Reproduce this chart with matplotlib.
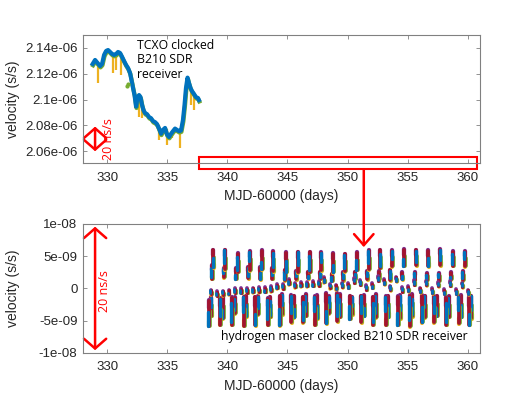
import numpy as np
import matplotlib
matplotlib.use('Agg')
import matplotlib.pyplot as plt
import matplotlib.patheffects as pe
from matplotlib.patches import Rectangle, FancyArrowPatch, ConnectionPatch

plt.rcParams['font.family'] = ['Liberation Sans', 'DejaVu Sans']

# octave default line colours
C_BLUE = '#0072BD'
C_ORANGE = '#D95319'
C_YELLOW = '#EDB120'
C_PURPLE = '#7E2F8E'
C_GREEN = '#77AC30'
C_RED = '#A2142F'
AX_COL = '#808080'
TXT_COL = '#262626'

# ---- TCXO clocked receiver (values in 1e-9 s/s)
tcxo_x = [328.80, 329.00, 329.21, 329.42, 329.58, 329.75, 329.92, 330.08, 330.25, 330.42,
          330.58, 330.75, 330.91, 331.08, 331.25, 331.41, 331.58, 331.74, 331.91, 332.03,
          332.16, 332.28, 332.41, 332.53, 332.66, 332.78, 332.91, 333.03, 333.16, 333.32,
          333.49, 333.65, 333.82, 333.99, 334.15, 334.32, 334.49, 334.65, 334.82, 334.98,
          335.15, 335.32, 335.48, 335.65, 335.81, 335.98, 336.15, 336.31, 336.44, 336.56,
          336.69, 336.81, 336.94, 337.06, 337.23, 337.39, 337.56, 337.64]
tcxo_v = [2127.6, 2130.7, 2128.3, 2126.0, 2127.6, 2134.6, 2137.7, 2138.4, 2136.9, 2135.3,
          2134.6, 2135.3, 2136.9, 2136.1, 2133.0, 2129.9, 2126.8, 2124.5, 2120.6, 2115.1,
          2108.9, 2103.5, 2094.5, 2101.9, 2103.5, 2101.9, 2095.7, 2091.8, 2089.5, 2088.7,
          2086.4, 2085.6, 2083.3, 2082.5, 2081.0, 2077.5, 2073.5, 2076.5, 2078.0, 2073.0,
          2071.0, 2073.5, 2075.5, 2077.5, 2076.5, 2075.5, 2076.0, 2084.1, 2095.7, 2108.9,
          2117.0, 2112.8, 2108.9, 2106.6, 2104.3, 2101.9, 2101.2, 2099.6]
spike_x = [329.25, 330.47, 330.75, 331.16, 332.66, 332.93, 334.34, 334.96, 335.40, 336.06, 336.95, 337.25]
spike_lo = [2112.5, 2120.3, 2122.9, 2119.0, 2086.6, 2085.4, 2068.5, 2064.7, 2070.0, 2062.1, 2095.7, 2091.8]
spike_hi = [2128.0, 2135.0, 2135.0, 2135.0, 2102.0, 2095.0, 2080.0, 2077.0, 2076.0, 2077.0, 2108.0, 2103.0]
green_x = [331.62, 331.70]
green_v = [2110.6, 2112.4]

# ---- hydrogen maser clocked receiver (values in 1e-9 s/s)
up_x = [338.83, 339.78, 340.88, 341.87, 342.86, 343.83, 344.90, 345.88, 346.86, 347.83, 348.80,
        349.77, 350.78, 351.75, 352.73, 353.70, 354.69, 355.71, 356.72, 357.71, 358.74, 359.74]
up_top = [5.9, 5.9, 5.4, 5.7, 5.8, 5.7, 5.5, 5.6, 5.6, 5.5, 5.4, 5.3, 5.5, 5.8, 5.9, 5.8, 6.0, 5.9, 5.8, 6.0, 5.7, 5.7]
up_bot = [3.3, 3.0, 2.6, 2.8, 3.0, 2.7, 2.6, 2.5, 2.6, 2.8, 2.5, 2.7, 2.9, 3.0, 3.2, 3.4, 3.5, 3.6, 3.4, 3.6, 3.5, 3.4]
lobe_x = [338.70, 339.70, 340.70, 341.75, 342.75, 343.75, 344.78, 345.75, 346.75, 347.72, 348.68,
          349.66, 350.66, 351.63, 352.60, 353.57, 354.57, 355.57, 356.58, 357.57, 358.60, 359.60]
lobe_top = [3.5, 3.0, 3.0, 3.2, 3.2, 3.0, 2.8, 2.6, 2.5, 2.5, 2.2, 2.4, 2.5, 2.6, 2.6, 2.8, 2.4, 2.4, 2.3, 2.3, 2.4, 2.6]
lobe_bot = [1.5, 1.7, 1.5, 1.6, 1.4, 1.5, 1.3, 1.4, 1.6, 1.5, 1.2, 1.3, 1.5, 1.4, 1.5, 1.3, 1.4, 1.3, 1.3, 1.2, 1.4, 1.3]
mid_x = [338.61, 339.11, 339.61, 340.10, 340.60, 341.10, 341.60, 342.10, 342.60, 343.10, 343.60,
         344.10, 344.60, 345.10, 345.60, 346.10, 346.60, 347.10, 347.60, 348.05, 348.55, 349.05,
         349.55, 350.05, 350.55, 351.05, 351.55, 352.05, 352.55, 353.05, 353.55, 354.05, 354.55,
         355.05, 355.55, 356.05, 356.55, 357.05, 357.55, 358.05, 358.55, 359.05, 359.55, 360.05]
mid_v = [-0.6, -0.85, -0.75, -0.6, -0.35, -0.35, -0.35, -0.3, -0.25, -0.2, -0.1,
         0.3, 0.25, 1.0, 0.45, 0.6, 0.6, 0.7, 0.75, 1.3, 0.3, 0.2,
         0.5, 0.4, 1.2, 0.9, 0.1, 0.4, 1.5, 1.0, 0.0, 1.4, -0.2,
         -0.1, 0.9, -0.3, 0.8, -0.4, 0.6, -0.5, 0.7, -0.5, 0.5, -0.6]
lo_x = [338.45, 339.40, 340.38, 341.35, 342.33, 343.35, 344.36, 345.33, 346.30, 347.27, 348.24, 349.15,
        350.18, 351.15, 352.12, 353.18, 354.17, 355.16, 356.20, 357.20, 358.20, 359.25, 360.14]
lo_top = [-1.9, -1.6, -1.5, -1.4, -1.4, -1.6, -1.2, -1.1, -1.4, -1.3, -0.8, -0.8,
          -1.2, -1.2, -1.4, -1.3, -1.3, -1.1, -1.1, -1.3, -1.5, -1.3, -1.5]
lo_bot = [-5.8, -5.6, -5.6, -5.8, -5.7, -5.6, -5.7, -5.2, -5.2, -5.6, -5.4, -5.1,
          -4.7, -5.2, -5.6, -5.6, -5.6, -5.9, -5.2, -5.2, -5.6, -5.4, -5.6]
lo2_x = [338.67, 339.62, 340.60, 341.57, 342.55, 343.57, 344.58, 345.55, 346.52, 347.49, 348.46, 349.37,
         350.40, 351.37, 352.34, 353.40, 354.39, 355.38, 356.42, 357.42, 358.42, 359.47, 360.30]
lo2_top = [-1.5, -1.4, -1.5, -1.2, -1.3, -1.4, -1.0, -1.2, -1.0, -1.1, -1.3, -1.0,
           -1.4, -1.1, -1.0, -1.2, -1.1, -1.0, -1.2, -1.2, -1.3, -1.1, -1.2]
lo2_bot = [-4.2, -4.6, -3.8, -4.3, -4.0, -4.4, -4.0, -4.5, -4.2, -4.6, -3.8, -4.4,
           -4.0, -4.2, -4.5, -4.4, -4.6, -4.3, -4.5, -4.2, -4.4, -4.4, -4.6]

xticks = [330, 335, 340, 345, 350, 355, 360]
top_yticks = [2.06e-6, 2.08e-6, 2.10e-6, 2.12e-6, 2.14e-6]
top_ylabels = ['2.06e-06', '2.08e-06', '2.1e-06', '2.12e-06', '2.14e-06']
bot_yticks = [-1e-8, -5e-9, 0, 5e-9, 1e-8]
bot_ylabels = ['-1e-08', '-5e-09', '0', '5e-09', '1e-08']

# blue coverage inside each streak, just for the mixed look
blue_span = [(0.0, 0.55), (0.35, 1.0), (0.1, 0.8), (0.5, 1.0), (0.0, 0.4), (0.2, 0.95)]


def streak(ax, x, top, bot, k, w=2.7):
    h = top - bot
    n = 1e-9
    kw = dict(solid_capstyle='round')
    ax.plot([x, x], [(top - 0.3 * h) * n, (top + 0.1) * n], color=C_PURPLE, lw=w + 0.4, **kw)
    ax.plot([x + 0.03, x + 0.03], [(bot - 0.1) * n, (bot + 0.2 * h) * n], color=C_YELLOW, lw=w + 0.3, **kw)
    ax.plot([x + 0.08, x + 0.08], [bot * n, (bot + 0.6 * h) * n], color=C_GREEN, lw=w, **kw)
    ax.plot([x, x], [bot * n, top * n], color=C_RED, lw=w, **kw)
    a, b = blue_span[k % len(blue_span)]
    ax.plot([x - 0.04, x - 0.04], [(bot + a * h) * n, (bot + b * h) * n], color=C_BLUE, lw=w - 0.3, **kw)


def style_axes(ax):
    for s in ax.spines.values():
        s.set_color(AX_COL)
        s.set_linewidth(0.8)
    ax.tick_params(direction='in', top=True, right=True, length=3, width=0.6, color=AX_COL,
                   labelsize=9.5, labelcolor=TXT_COL)
    ax.tick_params(axis='x', pad=6)
    ax.tick_params(axis='y', pad=4)
    ax.set_xlim(328.0, 361.0)
    ax.set_xticks(xticks)
    ax.set_xlabel('MJD-60000 (days)', fontsize=10, color=TXT_COL)
    ax.set_ylabel('velocity (s/s)', fontsize=10, color=TXT_COL)
    ax.yaxis.set_label_coords(-0.16, 0.5)
    ax.xaxis.set_label_coords(0.5, -0.205)


fig = plt.figure(figsize=(5.29, 3.97), dpi=100)
ax1 = fig.add_axes([0.157, 0.589, 0.750, 0.323])
ax2 = fig.add_axes([0.157, 0.111, 0.750, 0.325])

# top panel
ax1.vlines(spike_x, np.array(spike_lo) * 1e-9, np.array(spike_hi) * 1e-9, color=C_YELLOW, lw=1.6)
ax1.plot(tcxo_x, np.array(tcxo_v) * 1e-9, color=C_BLUE, lw=3.0, solid_joinstyle='round',
         path_effects=[pe.SimpleLineShadow(offset=(0.3, -1.0), shadow_color=C_GREEN, alpha=1.0),
                       pe.Normal()])
ax1.plot(green_x, np.array(green_v) * 1e-9, '.', color=C_GREEN, ms=4)
ax1.set_ylim(2.0507e-6, 2.1501e-6)
ax1.set_yticks(top_yticks)
ax1.set_yticklabels(top_ylabels)
style_axes(ax1)

ax1.text(332.45, 2.1472e-6, 'TCXO clocked\nB210 SDR\nreceiver', fontsize=8.8, va='top', ha='left',
         family=['Open Sans', 'DejaVu Sans'], linespacing=1.15)
ax1.add_patch(FancyArrowPatch((329.0, 2.0578e-6), (329.0, 2.0812e-6), arrowstyle='<->,head_length=0.35,head_width=0.4',
                              mutation_scale=20, color='red', lw=1.8, clip_on=False))
ax1.text(330.1, 2.0695e-6, '20 ns/s', rotation=90, color='red', fontsize=9, va='center', ha='center',
         family=['Open Sans', 'DejaVu Sans'])
ax1.add_patch(Rectangle((337.65, 2.046e-6), 23.1, 0.0093e-6, fill=False, edgecolor='red', lw=1.5, clip_on=False))

# bottom panel
for i in range(len(lo_x)):
    streak(ax2, lo2_x[i], lo2_top[i], lo2_bot[i], i + 3)
    streak(ax2, lo_x[i], lo_top[i], lo_bot[i], i)
for i in range(len(up_x)):
    streak(ax2, lobe_x[i], lobe_top[i], lobe_bot[i], i + 2)
    streak(ax2, up_x[i], up_top[i], up_bot[i], i)
for i in range(len(mid_x)):
    streak(ax2, mid_x[i], mid_v[i] + 0.3, mid_v[i] - 0.3, i + 1, w=2.3)

ax2.set_ylim(-1e-8, 1e-8)
ax2.set_yticks(bot_yticks)
ax2.set_yticklabels(bot_ylabels)
style_axes(ax2)

ax2.text(339.5, -7.5e-9, 'hydrogen maser clocked B210 SDR receiver', fontsize=8.8, va='center', ha='left',
         family=['Open Sans', 'DejaVu Sans'])
ax2.add_patch(FancyArrowPatch((329.0, -1.0e-8), (329.0, 1.0e-8), arrowstyle='<->,head_length=0.35,head_width=0.4',
                              mutation_scale=20, color='red', lw=1.8, clip_on=False))
ax2.text(329.8, -0.4e-9, '20 ns/s', rotation=90, color='red', fontsize=9, va='center', ha='center',
         family=['Open Sans', 'DejaVu Sans'])

con = ConnectionPatch(xyA=(351.35, 2.046e-6), coordsA=ax1.transData,
                      xyB=(351.35, 6.4e-9), coordsB=ax2.transData,
                      arrowstyle='->,head_length=0.4,head_width=0.35', mutation_scale=20,
                      color='red', lw=1.8)
fig.add_artist(con)

fig.savefig('out.png', dpi=100)
